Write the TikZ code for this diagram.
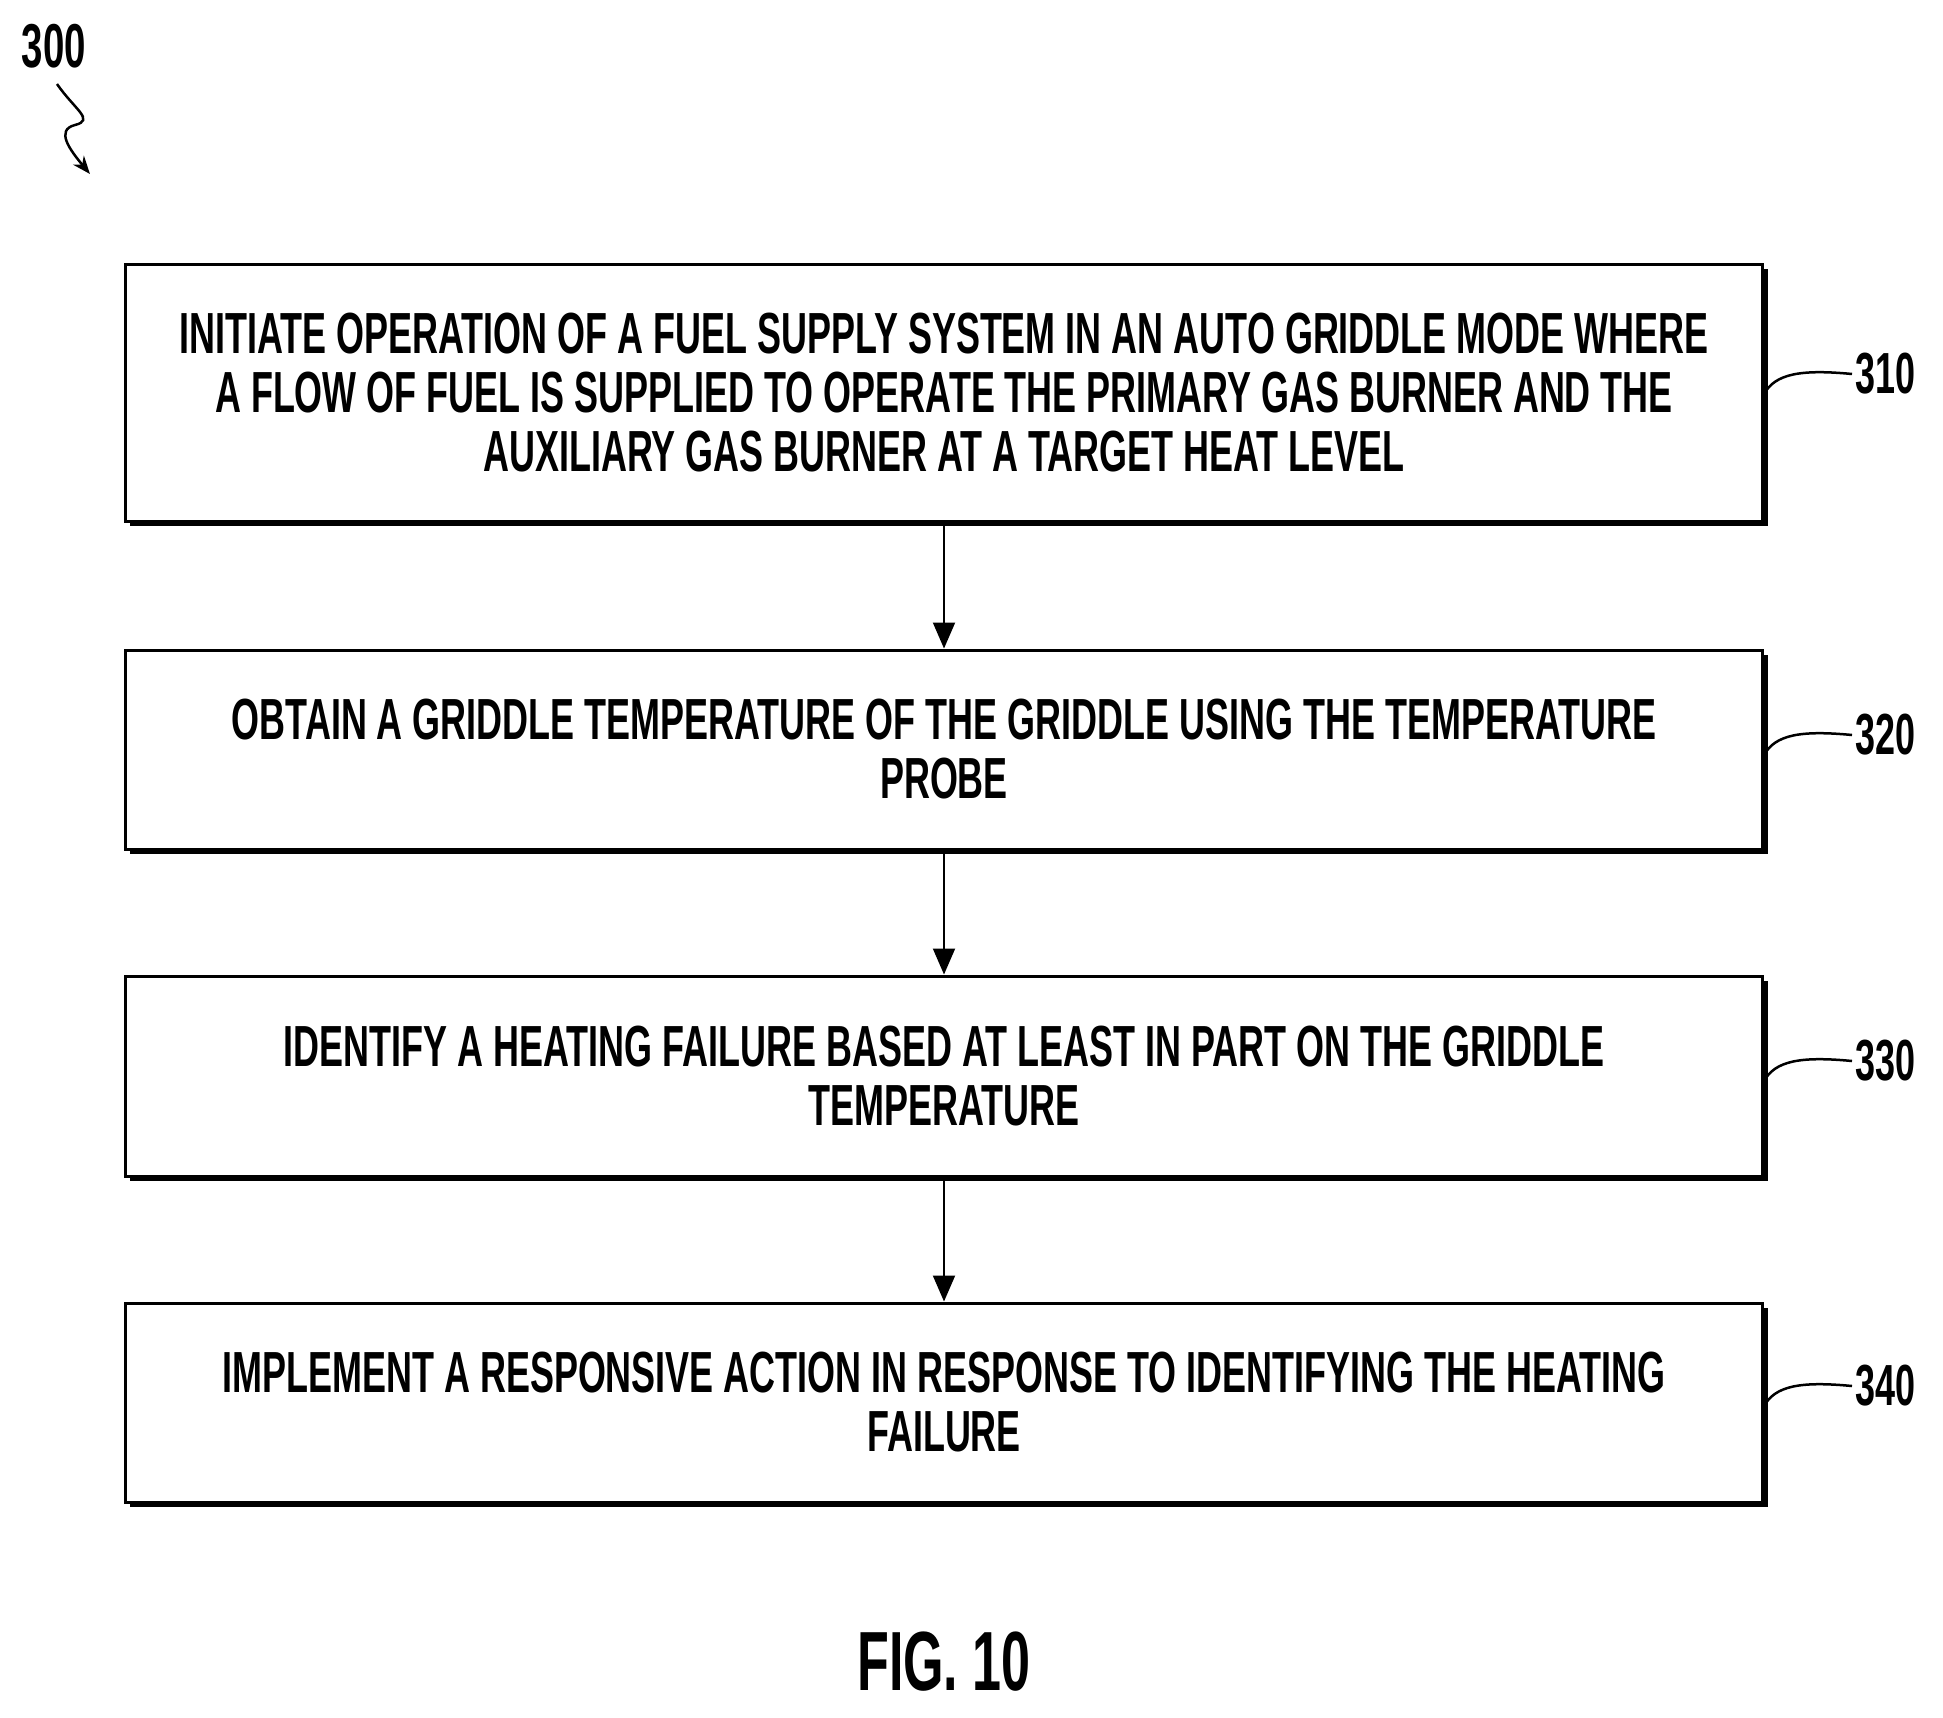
\documentclass[tikz,border=0pt]{standalone}
\usepackage{fontspec}
\setmainfont{Liberation Sans}[FakeStretch=0.62]
\usetikzlibrary{arrows.meta}
\begin{document}
\begin{tikzpicture}[x=1pt,y=-1pt,
  box/.style={draw,line width=3pt,minimum width=1637pt,align=center,inner sep=0pt,fill=white},
  txt/.style={font=\fontsize{58}{59}\selectfont\bfseries,align=center},
  lbl/.style={font=\fontsize{58}{60}\selectfont\bfseries},
  arr/.style={line width=2pt,-{Triangle[length=26pt,width=22pt]}},
  lead/.style={line width=2.5pt}]
\useasboundingbox (0,0) rectangle (1943,1718);
\foreach \n/\t/\b in {a/264/521,b/650/849,c/976/1176,d/1303/1502}{
  \fill (130,\t+5) rectangle (1768,\b+5);
  \node[box,minimum height=\b-\t] (\n) at (944,{(\t+\b)/2}) {};
}
\node[txt] at (a) {INITIATE OPERATION OF A FUEL SUPPLY SYSTEM IN AN AUTO GRIDDLE MODE WHERE\\A FLOW OF FUEL IS SUPPLIED TO OPERATE THE PRIMARY GAS BURNER AND THE\\AUXILIARY GAS BURNER AT A TARGET HEAT LEVEL};
\node[txt] at (b) {OBTAIN A GRIDDLE TEMPERATURE OF THE GRIDDLE USING THE TEMPERATURE\\PROBE};
\node[txt] at (c) {IDENTIFY A HEATING FAILURE BASED AT LEAST IN PART ON THE GRIDDLE\\TEMPERATURE};
\node[txt] at (d) {IMPLEMENT A RESPONSIVE ACTION IN RESPONSE TO IDENTIFYING THE HEATING\\FAILURE};
\draw[arr] (a.south) -- (b.north);
\draw[arr] (b.south) -- (c.north);
\draw[arr] (c.south) -- (d.north);
\foreach \n/\l/\y in {a/310/374,b/320/735,c/330/1061,d/340/1386}{
  \node[lbl,anchor=west] (l\n) at (1852,\y) {\l};
  \draw[lead] (\n.east |- 0,\y+20) .. controls (1775,\y) and (1800,\y-5) .. (l\n.west);
}
\node[font=\fontsize{62}{64}\selectfont\bfseries] (n300) at (54,46) {300};
\coordinate (s1) at (57,84);
\coordinate (s2) at (90,174);
\draw[line width=2.5pt,-{Stealth[length=18pt,width=14pt]}] (s1) .. controls (75,110) and (95,120) .. (75,125) .. controls (55,130) and (70,150) .. (s2);
\node[font=\fontsize{84}{86}\selectfont\bfseries] (fig) at (944,1662) {FIG. 10};
\end{tikzpicture}
\end{document}
